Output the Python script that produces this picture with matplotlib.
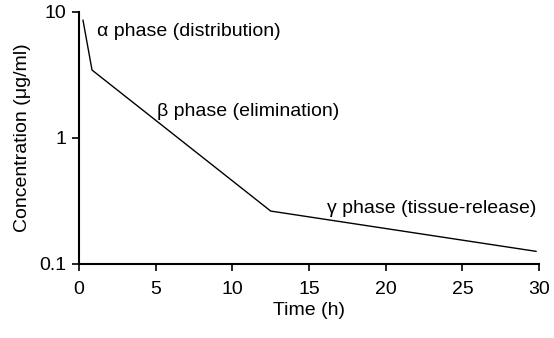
import matplotlib
matplotlib.use("Agg")
import matplotlib.pyplot as plt
from matplotlib.ticker import FixedLocator, FixedFormatter, NullLocator

plt.rcParams['font.family'] = ['Liberation Sans', 'DejaVu Sans']

# concentration-time profile (three phases)
time_h = [0.26, 0.85, 12.5, 29.8]
conc = [8.6, 3.46, 0.263, 0.126]

phase_labels = ["\u03b1 phase (distribution)", "\u03b2 phase (elimination)", "\u03b3 phase (tissue-release)"]
label_x = [1.15, 5.1, 16.2]
label_y = [7.0, 1.63, 0.274]

y_ticks = [0.1, 1, 10]
y_ticklabels = ["0.1", "1", "10"]
x_ticks = [0, 5, 10, 15, 20, 25, 30]

fig = plt.figure(figsize=(5.54, 3.38), dpi=100)
ax = fig.add_axes([0.1426, 0.219, 0.8305, 0.7455])

ax.plot(time_h, conc, color="black", linewidth=1.0)

for txt, x, y in zip(phase_labels, label_x, label_y):
    ax.text(x, y, txt, fontsize=14, va="center", ha="left")

ax.set_yscale("log")
ax.set_ylim(0.1, 10)
ax.set_xlim(0, 30)
ax.yaxis.set_major_locator(FixedLocator(y_ticks))
ax.yaxis.set_major_formatter(FixedFormatter(y_ticklabels))
ax.yaxis.set_minor_locator(NullLocator())
ax.set_xticks(x_ticks)

for s in ["top", "right"]:
    ax.spines[s].set_visible(False)
for s in ["left", "bottom"]:
    ax.spines[s].set_linewidth(1.5)
ax.tick_params(direction="out", length=5, width=1.2, labelsize=14)
ax.tick_params(axis="x", pad=7)
ax.tick_params(axis="y", pad=4)

ax.set_xlabel("Time (h)", fontsize=14, labelpad=3)
ax.set_ylabel("Concentration (\u03bcg/ml)", fontsize=14, labelpad=6)

fig.savefig("out.png", dpi=100)
